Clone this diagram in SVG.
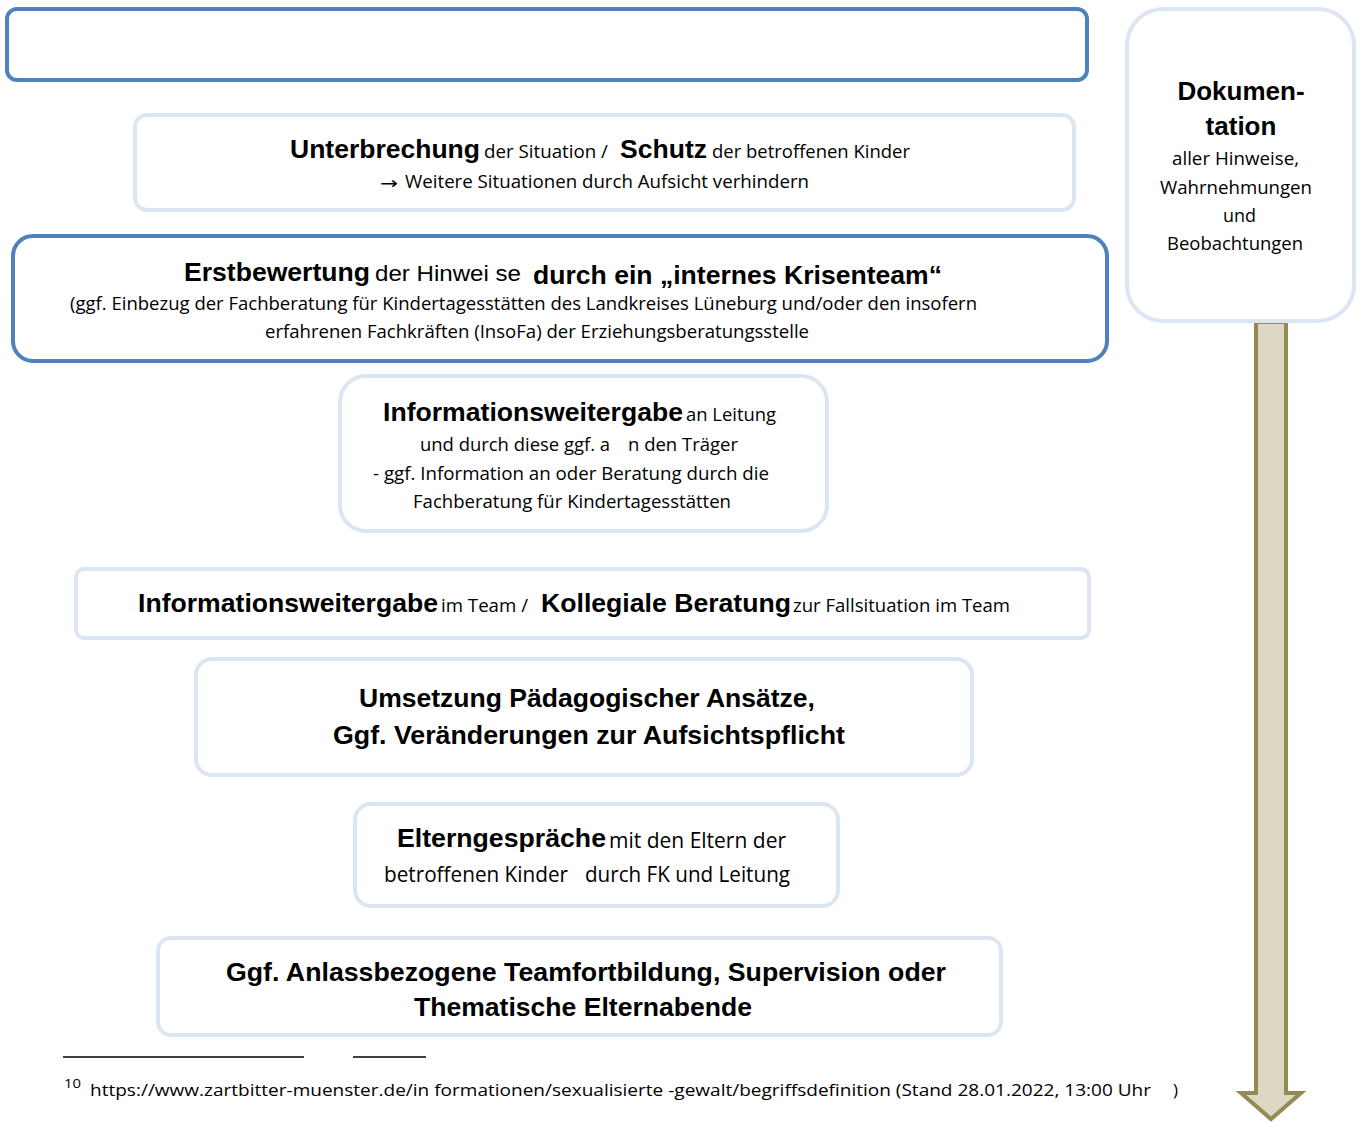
<svg xmlns="http://www.w3.org/2000/svg" width="1360" height="1122" viewBox="0 0 1360 1122">
<style>
.dark{fill:#fff;stroke:#4f81bd;stroke-width:4}
.light{fill:#fff;stroke:#dce6f2;stroke-width:4}
.b{font-family:"Liberation Sans",Arial,sans-serif;font-weight:bold;font-size:26px;fill:#000}
.r{font-family:"Open Sans","Noto Sans",sans-serif;font-size:18px;fill:#000}
.r2{font-family:"Open Sans","Noto Sans",sans-serif;font-size:21px;fill:#000}
.fn{font-family:"Open Sans","Noto Sans",sans-serif;font-size:17px;fill:#000}
</style>
<rect x="0" y="0" width="1360" height="1122" fill="#fff"/>
<g id="connectors">
  <path d="M1256,322 L1286,322 L1286,1093 L1301,1093 L1271,1119 L1241,1093 L1256,1093 Z" fill="#ddd8c2" stroke="#948a54" stroke-width="4" stroke-linejoin="miter"/>
</g>
<g id="node-top">
  <rect class="dark" x="7" y="9" width="1080" height="71" rx="10"/>
</g>
<g id="node-doku">
  <rect class="light" x="1127" y="9" width="227" height="312" rx="36"/>
  <text class="b" x="1241" y="100" text-anchor="middle">Dokumen-</text>
  <text class="b" x="1241" y="135" text-anchor="middle">tation</text>
  <text class="r" x="1172" y="165" textLength="127" lengthAdjust="spacingAndGlyphs">aller Hinweise,</text>
  <text class="r" x="1160" y="194" textLength="152" lengthAdjust="spacingAndGlyphs">Wahrnehmungen</text>
  <text class="r" x="1223" y="222" textLength="33" lengthAdjust="spacingAndGlyphs">und</text>
  <text class="r" x="1167" y="250" textLength="136" lengthAdjust="spacingAndGlyphs">Beobachtungen</text>
</g>
<g id="node-unterbrechung">
  <rect class="light" x="135" y="115" width="939" height="95" rx="12"/>
  <text class="b" x="290" y="158" textLength="190" lengthAdjust="spacingAndGlyphs">Unterbrechung</text>
  <text class="r" x="484" y="158" textLength="124" lengthAdjust="spacingAndGlyphs">der Situation /</text>
  <text class="b" x="620" y="158" textLength="87" lengthAdjust="spacingAndGlyphs">Schutz</text>
  <text class="r" x="712" y="158" textLength="198" lengthAdjust="spacingAndGlyphs">der betroffenen Kinder</text>
  <text x="380" y="189" font-family="DejaVu Sans,sans-serif" font-size="17" textLength="18" lengthAdjust="spacingAndGlyphs">→</text>
  <text class="r" x="405" y="188" textLength="404" lengthAdjust="spacingAndGlyphs">Weitere Situationen durch Aufsicht verhindern</text>
</g>
<g id="node-erstbewertung">
  <rect class="dark" x="13" y="236" width="1094" height="125" rx="20"/>
  <text class="b" x="184" y="281" textLength="186" lengthAdjust="spacingAndGlyphs">Erstbewertung</text>
  <text x="375" y="281" font-family="Liberation Sans,Arial,sans-serif" font-size="22" textLength="146" lengthAdjust="spacingAndGlyphs">der Hinwei se</text>
  <text class="b" x="533" y="284" textLength="409" lengthAdjust="spacingAndGlyphs">durch ein „internes Krisenteam“</text>
  <text class="r" x="70" y="310" textLength="907" lengthAdjust="spacingAndGlyphs">(ggf. Einbezug der Fachberatung für Kindertagesstätten des Landkreises Lüneburg und/oder den insofern</text>
  <text class="r" x="265" y="338" textLength="544" lengthAdjust="spacingAndGlyphs">erfahrenen Fachkräften (InsoFa) der Erziehungsberatungsstelle</text>
</g>
<g id="node-info-leitung">
  <rect class="light" x="340" y="376" width="487" height="155" rx="26"/>
  <text class="b" x="383" y="421" textLength="300" lengthAdjust="spacingAndGlyphs">Informationsweitergabe</text>
  <text class="r" x="686" y="421" textLength="90" lengthAdjust="spacingAndGlyphs">an Leitung</text>
  <text class="r" x="420" y="451" textLength="190" lengthAdjust="spacingAndGlyphs">und durch diese ggf. a</text>
  <text class="r" x="628" y="451" textLength="110" lengthAdjust="spacingAndGlyphs">n den Träger</text>
  <text class="r" x="373" y="480" textLength="396" lengthAdjust="spacingAndGlyphs">- ggf. Information an oder Beratung durch die</text>
  <text class="r" x="413" y="508" textLength="318" lengthAdjust="spacingAndGlyphs">Fachberatung für Kindertagesstätten</text>
</g>
<g id="node-info-team">
  <rect class="light" x="76" y="569" width="1013" height="69" rx="8"/>
  <text class="b" x="138" y="612" textLength="300" lengthAdjust="spacingAndGlyphs">Informationsweitergabe</text>
  <text class="r" x="441" y="612" textLength="87" lengthAdjust="spacingAndGlyphs">im Team /</text>
  <text class="b" x="541" y="612" textLength="250" lengthAdjust="spacingAndGlyphs">Kollegiale Beratung</text>
  <text class="r" x="793" y="612" textLength="217" lengthAdjust="spacingAndGlyphs">zur Fallsituation im Team</text>
</g>
<g id="node-umsetzung">
  <rect class="light" x="196" y="659" width="776" height="116" rx="16"/>
  <text class="b" x="587" y="707" text-anchor="middle" textLength="456" lengthAdjust="spacingAndGlyphs">Umsetzung Pädagogischer Ansätze,</text>
  <text class="b" x="589" y="744" text-anchor="middle" textLength="512" lengthAdjust="spacingAndGlyphs">Ggf. Veränderungen zur Aufsichtspflicht</text>
</g>
<g id="node-eltern">
  <rect class="light" x="355" y="804" width="483" height="102" rx="16"/>
  <text class="b" x="397" y="847" textLength="209" lengthAdjust="spacingAndGlyphs">Elterngespräche</text>
  <text class="r2" x="609" y="848" textLength="177" lengthAdjust="spacingAndGlyphs">mit den Eltern der</text>
  <text class="r2" x="384" y="882" textLength="184" lengthAdjust="spacingAndGlyphs">betroffenen Kinder</text>
  <text class="r2" x="585" y="882" textLength="205" lengthAdjust="spacingAndGlyphs">durch FK und Leitung</text>
</g>
<g id="node-fortbildung">
  <rect class="light" x="158" y="938" width="843" height="97" rx="13"/>
  <text class="b" x="226" y="981" textLength="720" lengthAdjust="spacingAndGlyphs">Ggf. Anlassbezogene Teamfortbildung, Supervision oder</text>
  <text class="b" x="414" y="1016" textLength="338" lengthAdjust="spacingAndGlyphs">Thematische Elternabende</text>
</g>
<g id="footnote">
  <line x1="63" y1="1057" x2="304" y2="1057" stroke="#000" stroke-width="1.5"/>
  <line x1="353" y1="1057" x2="426" y2="1057" stroke="#000" stroke-width="1.5"/>
  <text x="64" y="1088" font-family="Open Sans,Noto Sans,sans-serif" font-size="12" textLength="17" lengthAdjust="spacingAndGlyphs">10</text>
  <text class="fn" x="90" y="1096" textLength="1061" lengthAdjust="spacingAndGlyphs">https://www.zartbitter-muenster.de/in formationen/sexualisierte  -gewalt/begriffsdefinition  (Stand 28.01.2022, 13:00 Uhr</text>
  <text class="fn" x="1173" y="1096">)</text>
</g>
</svg>
